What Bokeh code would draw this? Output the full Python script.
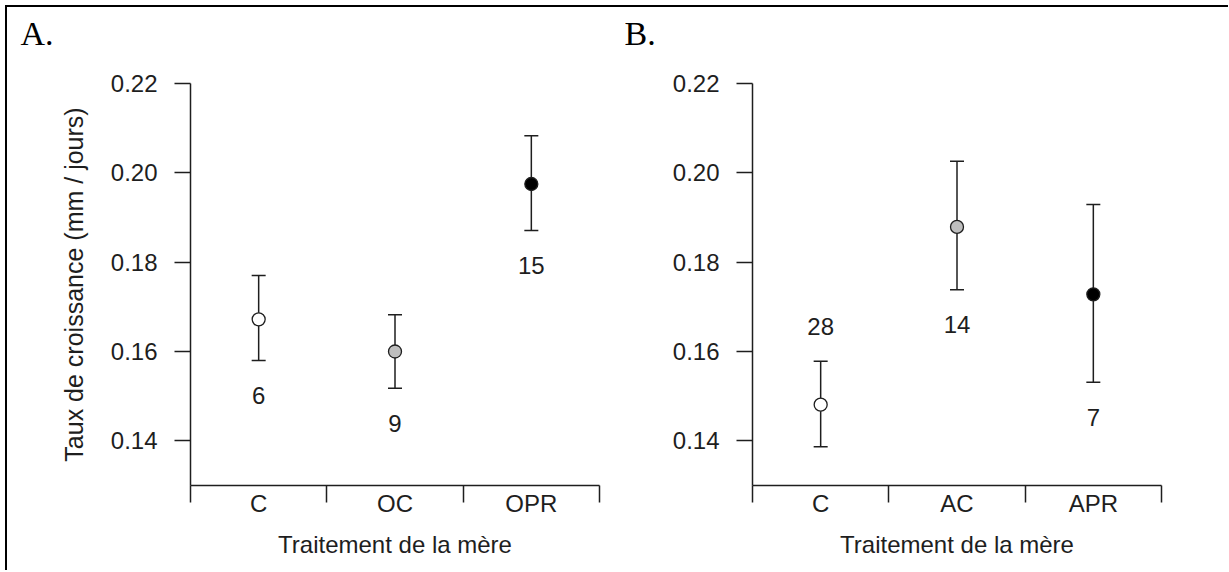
from bokeh.plotting import figure
from bokeh.models import (ColumnDataSource, Range1d, FixedTicker, Whisker, TeeHead,
                          NumeralTickFormatter, Title)
from bokeh.layouts import row
from bokeh.embed import file_html
from bokeh.resources import INLINE
from bokeh.core.properties import value

# ---------------- data ----------------
# Panel A
cats_a = ["C", "OC", "OPR"]
mean_a = [0.1672, 0.1600, 0.1975]
upper_a = [0.1770, 0.1682, 0.2083]
lower_a = [0.1580, 0.1518, 0.1871]
n_a = ["6", "9", "15"]
side_a = ["below", "below", "below"]

# Panel B
cats_b = ["C", "AC", "APR"]
mean_b = [0.1481, 0.1879, 0.1728]
upper_b = [0.1578, 0.2026, 0.1929]
lower_b = [0.1387, 0.1738, 0.1531]
n_b = ["28", "14", "7"]
side_b = ["above", "below", "below"]

y_ticks = [0.14, 0.16, 0.18, 0.20, 0.22]
y_label = "Taux de croissance (mm / jours)"
x_label = "Traitement de la mère"

# ---------------- style ----------------
fills = ["white", "#bebebe", "black"]
INK = "#1e1e1e"
SANS = "Liberation Sans"
SERIF = "Liberation Serif"
FS = "24px"


def panel(cats, mean, upper, lower, n, side, letter, width, left, right, ylab,
          letter_offset):
    p = figure(width=width, height=563, output_backend="svg", toolbar_location=None,
               x_range=Range1d(0, len(cats)), y_range=Range1d(0.13, 0.22),
               min_border_left=left, min_border_right=right,
               min_border_top=76, min_border_bottom=85)
    p.grid.visible = False
    p.outline_line_color = None
    p.background_fill_color = "white"
    p.border_fill_color = "white"

    # spacer between the frame and the panel letter
    p.add_layout(Title(text=" ", text_font_size="1px", standoff=27), "above")

    # panel letter as a left-aligned title
    p.title.text = letter
    p.title.align = "left"
    p.title.vertical_align = "top"
    p.title.offset = letter_offset
    p.title.standoff = 0
    p.title.text_font = SERIF
    p.title.text_font_size = "34px"
    p.title.text_font_style = "normal"
    p.title.text_color = "black"

    xs = [i + 0.5 for i in range(len(cats))]
    off = 35
    src = ColumnDataSource(dict(
        x=xs, mean=mean, upper=upper, lower=lower, fill=fills[:len(cats)], n=n,
        ty=[lo if s == "below" else up for lo, up, s in zip(lower, upper, side)],
        toff=[off if s == "below" else -off for s in side],
    ))

    w = Whisker(source=src, base="x", upper="upper", lower="lower",
                line_color=INK, line_width=1.5,
                upper_head=TeeHead(size=14, line_color=INK, line_width=1.5),
                lower_head=TeeHead(size=14, line_color=INK, line_width=1.5))
    p.add_layout(w)
    p.scatter("x", "mean", source=src, size=13, fill_color="fill",
              line_color=INK, line_width=1.3)
    p.text("x", "ty", text="n", source=src, y_offset="toff",
           text_align="center", text_baseline="middle",
           text_font=value(SANS), text_font_size=FS, text_color=INK)

    # x axis: labels at category centres, ticks at category boundaries
    xa = p.xaxis[0]
    xa.ticker = FixedTicker(ticks=xs, minor_ticks=list(range(len(cats) + 1)))
    xa.major_label_overrides = {x: c for x, c in zip(xs, cats)}
    xa.major_tick_out = 0
    xa.major_tick_in = 0
    xa.minor_tick_out = 17
    xa.minor_tick_in = 0
    xa.minor_tick_line_color = INK
    xa.minor_tick_line_width = 1.5
    xa.axis_line_color = INK
    xa.axis_line_width = 1.5
    xa.major_label_standoff = -13
    xa.major_label_text_font = SANS
    xa.major_label_text_font_size = FS
    xa.major_label_text_color = INK
    xa.axis_label = x_label
    xa.axis_label_standoff = 11
    xa.axis_label_text_font = SANS
    xa.axis_label_text_font_size = FS
    xa.axis_label_text_font_style = "normal"
    xa.axis_label_text_color = INK

    ya = p.yaxis[0]
    ya.ticker = FixedTicker(ticks=y_ticks)
    ya.formatter = NumeralTickFormatter(format="0.00")
    ya.major_tick_out = 16
    ya.major_tick_in = 0
    ya.minor_tick_out = 0
    ya.minor_tick_in = 0
    ya.major_tick_line_color = INK
    ya.major_tick_line_width = 1.5
    ya.axis_line_color = INK
    ya.axis_line_width = 1.5
    ya.major_label_standoff = 17
    ya.major_label_text_font = SANS
    ya.major_label_text_font_size = FS
    ya.major_label_text_color = INK
    if ylab:
        ya.axis_label = ylab
        ya.axis_label_standoff = 20
        ya.axis_label_text_font = SANS
        ya.axis_label_text_font_size = "25px"
        ya.axis_label_text_font_style = "normal"
        ya.axis_label_text_color = INK

    return p


pA = panel(cats_a, mean_a, upper_a, lower_a, n_a, side_a, "A.", 600, 183, 8,
           y_label, -170)
pB = panel(cats_b, mean_b, upper_b, lower_b, n_b, side_b, "B.", 621, 145, 67,
           None, -128)

layout = row(pA, pB, margin=(5, 0, 0, 5),
             styles={"border-top": "2px solid black",
                     "border-left": "2px solid black"})

open("out.html", "w").write(file_html(layout, INLINE))
